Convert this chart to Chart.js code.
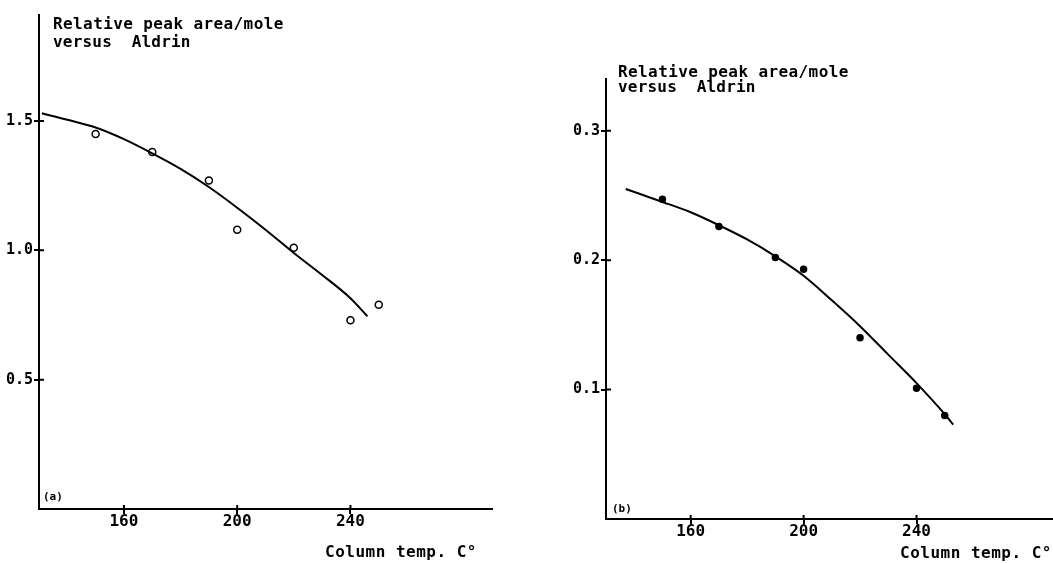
<!DOCTYPE html>
<html>
<head>
<meta charset="utf-8">
<script src="https://cdn.jsdelivr.net/npm/chart.js@4"></script>
<style>
  html, body { margin: 0; padding: 0; background: #fff; }
  #wrap { position: relative; width: 1053px; height: 563px; }
  .panel { position: absolute; top: 0; height: 563px; }
  #panelA { left: 0; width: 520px; }
  #panelB { left: 540px; width: 513px; }
</style>
</head>
<body>
<div id="wrap">
  <div class="panel" id="panelA"><canvas id="chartA"></canvas></div>
  <div class="panel" id="panelB"><canvas id="chartB"></canvas></div>
</div>
<script>
// Column temperature ticks (both panels)
const tempTicks = [160, 200, 240];

// Panel (a) - open circles + fitted curve
const pointTempsA = [150, 170, 190, 200, 220, 240, 250];
const pointValuesA = [1.45, 1.38, 1.27, 1.08, 1.01, 0.73, 0.79];
const curveTempsA = [131, 140, 150, 160, 170, 180, 190, 200, 210, 220, 230, 240, 246];
const curveValuesA = [1.53, 1.505, 1.475, 1.43, 1.375, 1.315, 1.245, 1.165, 1.08, 0.99, 0.905, 0.815, 0.745];
const yTicksA = [0.5, 1.0, 1.5];

// Panel (b) - filled dots + fitted curve
const pointTempsB = [150, 170, 190, 200, 220, 240, 250];
const pointValuesB = [0.247, 0.226, 0.202, 0.193, 0.140, 0.101, 0.080];
const curveTempsB = [137, 150, 160, 170, 180, 190, 200, 210, 220, 230, 240, 250, 253];
const curveValuesB = [0.255, 0.245, 0.237, 0.227, 0.216, 0.203, 0.188, 0.169, 0.149, 0.127, 0.105, 0.081, 0.073];
const yTicksB = [0.1, 0.2, 0.3];

const MONO = '"DejaVu Sans Mono", monospace';

const toXY = (xs, ys) => xs.map((x, i) => ({ x: x, y: ys[i] }));

// Draws the free texts (axis titles, panel letters) and inward tick stubs
const textPlugin = {
    id: 'freeTexts',
    afterDraw(chart, args, opts) {
        const ctx = chart.ctx;
        ctx.save();
        ctx.fillStyle = '#000';
        ctx.textBaseline = 'alphabetic';
        ctx.textAlign = 'left';
        (opts.items || []).forEach(t => {
            ctx.font = t.font;
            ctx.letterSpacing = t.spacing || '0px';
            ctx.fillText(t.text, t.x, t.y);
        });
        ctx.letterSpacing = '0px';

        // tick marks crossing into the plot
        const xs = chart.scales.x, ys = chart.scales.y;
        const area = chart.chartArea;
        ctx.strokeStyle = '#000';
        ctx.lineWidth = 2;
        ctx.beginPath();
        xs.ticks.forEach(tk => {
            const px = xs.getPixelForValue(tk.value);
            ctx.moveTo(px, area.bottom);
            ctx.lineTo(px, area.bottom - 4);
        });
        ys.ticks.forEach(tk => {
            const py = ys.getPixelForValue(tk.value);
            ctx.moveTo(area.left, py);
            ctx.lineTo(area.left + 5, py);
        });
        ctx.stroke();
        ctx.restore();
    }
};

function makeChart(id, cfg) {
    return new Chart(document.getElementById(id), {
        type: 'scatter',
        data: {
            datasets: [
                {
                    type: 'line',
                    data: toXY(cfg.curveX, cfg.curveY),
                    borderColor: '#000',
                    borderWidth: 2,
                    pointRadius: 0,
                    fill: false,
                    cubicInterpolationMode: 'monotone'
                },
                {
                    data: toXY(cfg.pointX, cfg.pointY),
                    pointRadius: cfg.radius,
                    pointBorderWidth: 1.5,
                    pointBorderColor: '#000',
                    pointBackgroundColor: cfg.filled ? '#000' : '#fff'
                }
            ]
        },
        options: {
            responsive: true,
            maintainAspectRatio: false,
            animation: false,
            layout: { padding: cfg.padding, autoPadding: false },
            plugins: {
                legend: { display: false },
                tooltip: { enabled: false },
                freeTexts: { items: cfg.texts }
            },
            scales: {
                x: {
                    type: 'linear',
                    min: 130,
                    max: cfg.xMax,
                    afterBuildTicks: s => { s.ticks = tempTicks.map(v => ({ value: v })); },
                    afterFit: s => { s.height = cfg.xHeight; },
                    border: { display: true, color: '#000', width: 2 },
                    grid: { drawOnChartArea: false, drawTicks: true, tickLength: 5, color: '#000', lineWidth: 2 },
                    ticks: {
                        color: '#000',
                        padding: 0,
                        maxRotation: 0,
                        font: { family: MONO, size: 16, weight: 'bold', lineHeight: 1 },
                        callback: v => String(v)
                    }
                },
                y: {
                    min: 0,
                    max: cfg.yMax,
                    afterBuildTicks: s => { s.ticks = cfg.yTicks.map(v => ({ value: v })); },
                    afterFit: s => { s.width = cfg.yWidth; },
                    border: { display: true, color: '#000', width: 2 },
                    grid: { drawOnChartArea: false, drawTicks: true, tickLength: 5, color: '#000', lineWidth: 2 },
                    ticks: {
                        color: '#000',
                        padding: 1,
                        font: { family: MONO, size: 15, weight: 'bold' },
                        callback: v => v.toFixed(1)
                    }
                }
            }
        },
        plugins: [textPlugin]
    });
}

const titleFont = 'bold 16px ' + MONO;

makeChart('chartA', {
    curveX: curveTempsA, curveY: curveValuesA,
    pointX: pointTempsA, pointY: pointValuesA,
    yTicks: yTicksA, yMax: 1.91, xMax: 290,
    radius: 3.5, filled: false,
    padding: { left: 0, top: 15, right: 28, bottom: 0 },
    xHeight: 54, yWidth: 39,
    texts: [
        { text: 'Relative peak area/mole', x: 53, y: 29, font: titleFont, spacing: '0.4px' },
        { text: 'versus  Aldrin', x: 53, y: 47, font: titleFont, spacing: '0.2px' },
        { text: 'Column temp. C°', x: 325, y: 557, font: titleFont, spacing: '0.5px' },
        { text: '(a)', x: 43, y: 500, font: 'bold 11px ' + MONO }
    ]
});

makeChart('chartB', {
    curveX: curveTempsB, curveY: curveValuesB,
    pointX: pointTempsB, pointY: pointValuesB,
    yTicks: yTicksB, yMax: 0.34, xMax: 288,
    radius: 3, filled: true,
    padding: { left: 0, top: 79, right: 1, bottom: 0 },
    xHeight: 44, yWidth: 66,
    texts: [
        { text: 'Relative peak area/mole', x: 78, y: 77, font: titleFont, spacing: '0.4px' },
        { text: 'versus  Aldrin', x: 78, y: 92, font: titleFont, spacing: '0.2px' },
        { text: 'Column temp. C°', x: 360, y: 558, font: titleFont, spacing: '0.5px' },
        { text: '(b)', x: 72, y: 512, font: 'bold 11px ' + MONO }
    ]
});
</script>
</body>
</html>
